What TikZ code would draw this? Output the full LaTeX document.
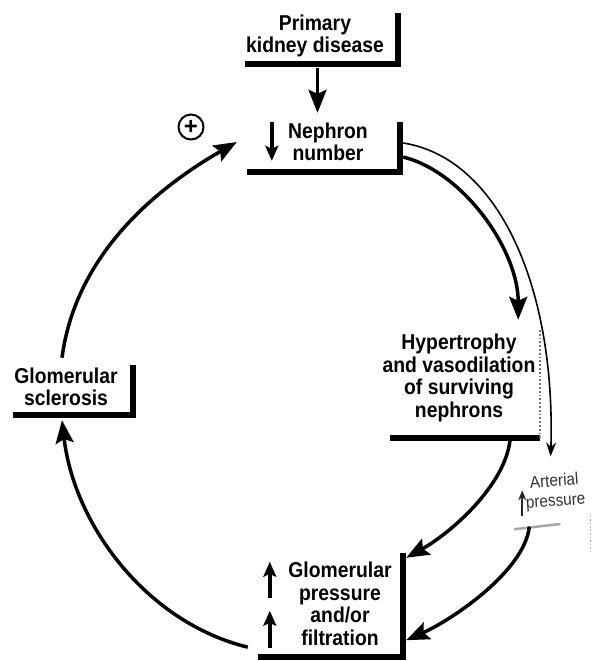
\documentclass[tikz,border=0pt]{standalone}
\usepackage{fontspec}
\setmainfont{Liberation Sans}
\newfontfamily\boxfont[FakeStretch=0.9]{Liberation Sans}
\usetikzlibrary{arrows.meta,positioning}

\begin{document}
\begin{tikzpicture}[x=1pt, y=-1pt, >={Stealth[length=23pt,width=18pt,inset=4pt]},
  box/.style={inner sep=0pt},
  txt/.style={align=center, inner sep=0pt, font=\boxfont\bfseries\fontsize{21.5}{22.5}\selectfont},
  smalltxt/.style={align=center, inner sep=0pt, text=black!80, font=\boxfont\fontsize{17}{20}\selectfont},
  bar/.style={line width=6.5pt},
  flow/.style={->, line width=3.5pt},
  thinflow/.style={-{Stealth[length=14pt,width=10pt]}, line width=1.6pt},
  updown/.style={-{Stealth[length=15pt,width=13pt,inset=3pt]}, line width=3.5pt}]

  \useasboundingbox (0,0) rectangle (592,661);

  % Boxes
  \node[box, minimum width=153pt, minimum height=51pt] (primary) at (321.5,38.5) {};
  \node[box, minimum width=153pt, minimum height=50pt] (nephron) at (323.5,147) {};
  \node[box, minimum width=120pt, minimum height=50pt] (sclerosis) at (73,390) {};
  \node[box, minimum width=150pt, minimum height=108pt] (hyper) at (465,384) {};
  \node[box, minimum width=145pt, minimum height=104pt] (glom) at (330.5,605) {};
  \node[box, minimum width=76pt, minimum height=67pt, rotate=4] (arterial) at (550,493) {};

  % Texts
  \node[txt] (primarytxt) at (315,36) {Primary\\kidney disease};
  \node[txt] (nephrontxt) at (328,142) {Nephron\\number};
  \node[txt] (sclerosistxt) at (66,387) {Glomerular\\sclerosis};
  \node[txt] (hypertxt) at (459,378) {Hypertrophy\\and vasodilation\\of surviving\\nephrons};
  \node[txt] (glomtxt) at (340,604) {Glomerular\\pressure\\and/or\\filtration};
  \node[smalltxt, rotate=4] (arterialtxt) at (555,492) {Arterial\\pressure};
  \node[circle, draw, line width=2pt, inner sep=0pt, minimum size=25pt,
        font=\bfseries\fontsize{24}{24}\selectfont] (plus) at (191,127) {+};

  % Shadow bars
  \foreach \n in {primary,nephron,sclerosis,glom}
    \draw[bar] (\n.south west) -| (\n.north east);
  \draw[bar] (hyper.south west) -- (hyper.south east);
  \draw[line width=1.8pt, black!55, dotted] (hyper.south east) -- (hyper.north east);
  \draw[line width=2.5pt, black!35] (arterial.south west) -- ([xshift=-30pt]arterial.south east);
  \draw[line width=1.5pt, black!30, dotted] ([yshift=8pt]arterial.south east) -- ([yshift=-30pt]arterial.south east);

  % Up and down arrows inside the boxes
  \draw[updown] ([xshift=25pt]nephron.north west) -- ([xshift=25pt,yshift=-39pt]nephron.north west);
  \draw[updown] ([xshift=12pt,yshift=-45pt]glom.north west) -- ([xshift=12pt,yshift=-9pt]glom.north west);
  \draw[updown] ([xshift=12pt,yshift=-95pt]glom.north west) -- ([xshift=12pt,yshift=-58pt]glom.north west);
  \draw[-{Stealth[length=10pt,width=8pt]}, line width=2pt, black!85]
    ([xshift=8pt,yshift=13pt]arterial.south west) -- ([xshift=8pt,yshift=39pt]arterial.south west);

  % Connectors
  \draw[flow] ([xshift=-4pt,yshift=-4pt]primary.south) -- ([xshift=-6pt,yshift=9pt]nephron.north);
  \draw[flow] ([xshift=3pt,yshift=-10pt]nephron.east) .. controls +(60,15) and +(0,-70) .. ([xshift=-22pt,yshift=10pt]hyper.north east);
  \draw[thinflow] ([xshift=3pt,yshift=4pt]nephron.east) .. controls +(95,15) and +(5,-170) .. ([xshift=3pt,yshift=3pt]arterial.north);
  \draw[flow] ([xshift=45pt,yshift=-2pt]hyper.south) .. controls +(-5,45) and +(45,-25) .. ([xshift=3pt,yshift=-5pt]glom.north east);
  \draw[flow] ([xshift=-23pt]arterial.south) .. controls +(-5,45) and +(45,-20) .. ([xshift=3pt,yshift=17pt]glom.south east);
  \draw[flow] ([xshift=-10pt,yshift=10pt]glom.south west) .. controls +(-102,-25) and +(12,104) .. ([xshift=-11pt,yshift=-5pt]sclerosis.south);
  \draw[flow] ([xshift=-11pt,yshift=7pt]sclerosis.north) .. controls +(13,-99) and +(-87,50) .. ([xshift=-10pt,yshift=5pt]nephron.west);

\end{tikzpicture}
\end{document}
